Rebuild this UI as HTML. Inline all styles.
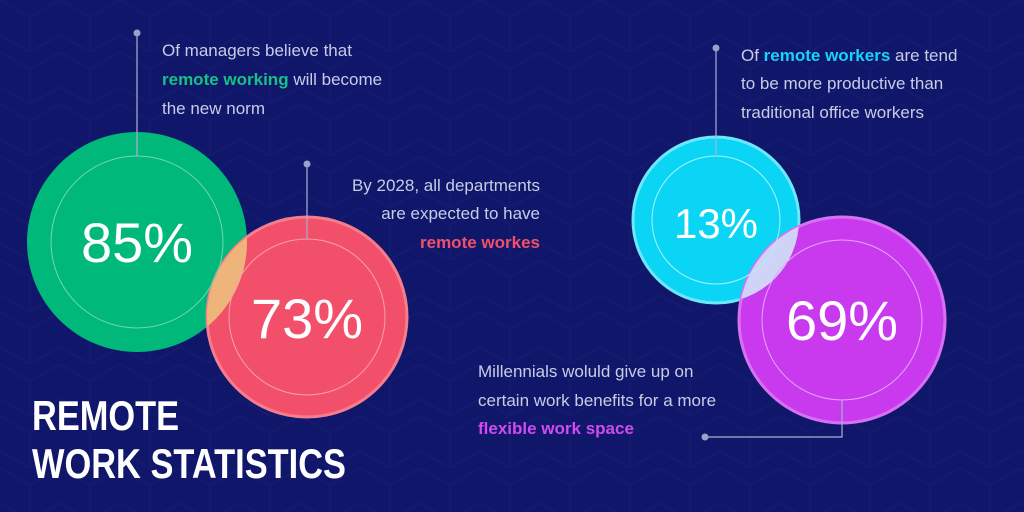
<!DOCTYPE html>
<html><head><meta charset="utf-8"><style>
html,body{margin:0;padding:0;background:#10176a;}
svg{display:block}
text{font-family:"Liberation Sans",sans-serif;}
</style></head><body>
<svg width="1024" height="512" viewBox="0 0 1024 512" xmlns="http://www.w3.org/2000/svg">
<defs>
<pattern id="p" width="60" height="52" patternUnits="userSpaceOnUse">
<path d="M0 0L30 17L60 0M30 17V52M0 35L30 52L60 35" fill="none" stroke="#1a2278" stroke-width="2"/>
</pattern>
</defs>
<rect width="1024" height="512" fill="#10176a"/>
<rect width="1024" height="512" fill="url(#p)" opacity="0.35"/>

<circle cx="137" cy="242" r="110" fill="#00b87a"/>
<circle cx="307" cy="317" r="100" fill="#f2506a" stroke="#f57d8c" stroke-width="3"/>
<clipPath id="cg"><circle cx="137" cy="242" r="110"/></clipPath>
<circle cx="307" cy="317" r="100" fill="#efb47a" clip-path="url(#cg)"/>
<circle cx="137" cy="242" r="86" fill="none" stroke="#6fd9b0" stroke-width="1"/>
<circle cx="307" cy="317" r="78" fill="none" stroke="#f7a0ac" stroke-width="1"/>

<circle cx="716" cy="220" r="83" fill="#0bd5f5" stroke="#6ee6fb" stroke-width="3"/>
<circle cx="842" cy="320" r="103" fill="#c93aef" stroke="#d870f3" stroke-width="3"/>
<clipPath id="cc"><circle cx="716" cy="220" r="83"/></clipPath>
<circle cx="842" cy="320" r="103" fill="#cfd4f7" clip-path="url(#cc)"/>
<circle cx="716" cy="220" r="64" fill="none" stroke="#a8f0fc" stroke-width="1"/>
<circle cx="842" cy="320" r="80" fill="none" stroke="#e4a5f7" stroke-width="1"/>

<g stroke="#a9aed6" stroke-width="1.2" fill="none">
<line x1="137" y1="33" x2="137" y2="156"/>
<line x1="307" y1="163" x2="307" y2="239"/>
<line x1="716" y1="48" x2="716" y2="156"/>
<polyline points="842,400 842,437 706,437"/>
</g>
<g fill="#9aa0cc">
<circle cx="137" cy="33" r="3.5"/><circle cx="307" cy="164" r="3.5"/>
<circle cx="716" cy="48" r="3.5"/><circle cx="705" cy="437" r="3.5"/>
</g>

<g fill="#fff" font-size="56" text-anchor="middle" paint-order="stroke" stroke-width="3.5">
<text x="137" y="262" stroke="#00b87a">85%</text>
<text x="307" y="338" stroke="#f2506a">73%</text>
<text x="716" y="238" font-size="42" stroke="#0bd5f5" stroke-width="2.5">13%</text>
<text x="842" y="340" stroke="#c93aef">69%</text>
</g>

<g font-size="17" fill="#c9cce6">
<text x="162" y="56">Of managers believe that</text>
<text x="162" y="85"><tspan fill="#17c084" font-weight="bold">remote working</tspan> will become</text>
<text x="162" y="114">the new norm</text>

<text x="540" y="191" text-anchor="end">By 2028, all departments</text>
<text x="540" y="219" text-anchor="end">are expected to have</text>
<text x="540" y="248" text-anchor="end" fill="#f2506a" font-weight="bold">remote workes</text>

<text x="741" y="61">Of <tspan fill="#17d3f5" font-weight="bold">remote workers</tspan> are tend</text>
<text x="741" y="89">to be more productive than</text>
<text x="741" y="118">traditional office workers</text>

<text x="478" y="377">Millennials woluld give up on</text>
<text x="478" y="406">certain work benefits for a more</text>
<text x="478" y="434" fill="#d04af2" font-weight="bold">flexible work space</text>
</g>

<g fill="#fff" font-weight="bold" font-size="42" font-family="'Liberation Sans Narrow','Liberation Sans',sans-serif">
<text x="32" y="430" textLength="147" lengthAdjust="spacingAndGlyphs">REMOTE</text>
<text x="32" y="478" textLength="314" lengthAdjust="spacingAndGlyphs">WORK STATISTICS</text>
</g>
</svg>
</body></html>
